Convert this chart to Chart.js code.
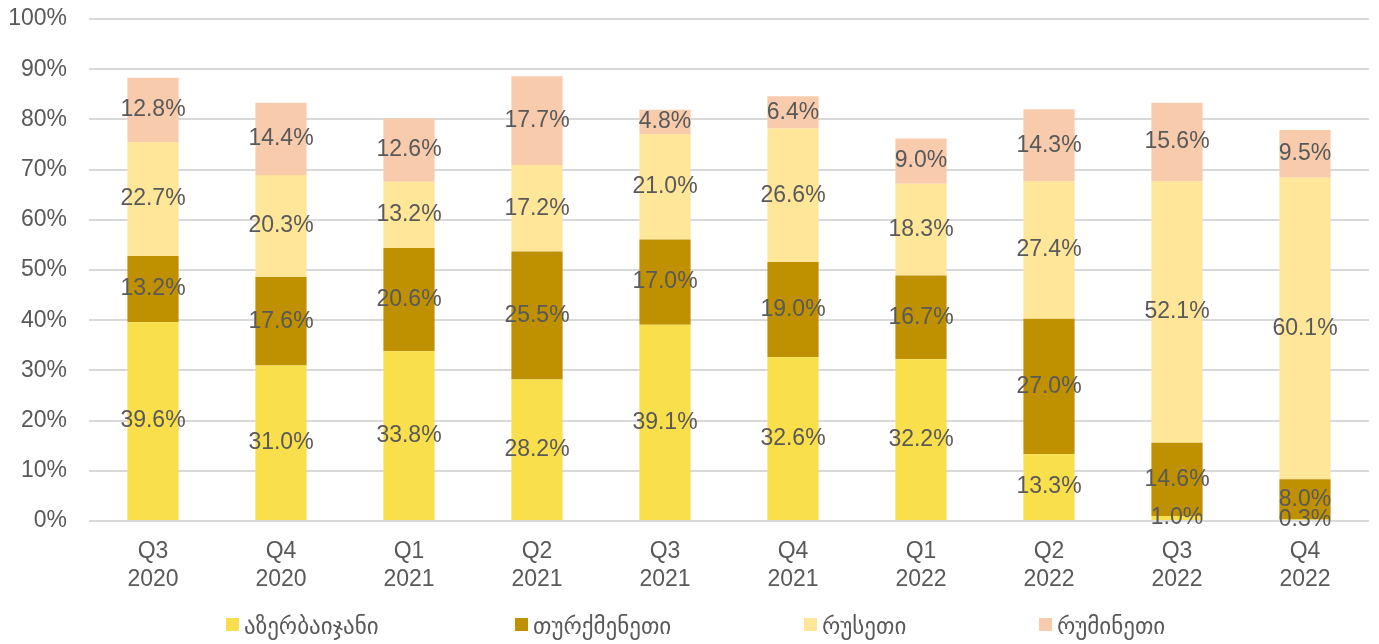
<!DOCTYPE html>
<html>
<head>
<meta charset="utf-8">
<script src="https://cdn.jsdelivr.net/npm/chart.js@4/dist/chart.umd.min.js"></script>
<style>
html,body{margin:0;padding:0;background:#fff;}
#wrap{width:1379px;height:644px;position:relative;}
</style>
</head>
<body>
<div id="wrap"><canvas id="c" width="1379" height="644"></canvas></div>
<script>
const categories = [["Q3","2020"],["Q4","2020"],["Q1","2021"],["Q2","2021"],["Q3","2021"],["Q4","2021"],["Q1","2022"],["Q2","2022"],["Q3","2022"],["Q4","2022"]];
const seriesNames = ["აზერბაიჯანი","თურქმენეთი","რუსეთი","რუმინეთი"];
const azerbaijan = [39.6, 31.0, 33.8, 28.2, 39.1, 32.6, 32.2, 13.3, 1.0, 0.3];
const turkmenistan = [13.2, 17.6, 20.6, 25.5, 17.0, 19.0, 16.7, 27.0, 14.6, 8.0];
const russia = [22.7, 20.3, 13.2, 17.2, 21.0, 26.6, 18.3, 27.4, 52.1, 60.1];
const romania = [12.8, 14.4, 12.6, 17.7, 4.8, 6.4, 9.0, 14.3, 15.6, 9.5];
const colors = ["#F9DF4B","#BF9000","#FFE699","#F8CBAD"];

const FONT = "'Liberation Sans', Arial, sans-serif";
const TXT = "#595959";

const labelPlugin = {
  id: 'segLabels',
  afterDatasetsDraw(chart) {
    const ctx = chart.ctx;
    ctx.save();
    ctx.font = "23px " + FONT;
    ctx.fillStyle = TXT;
    ctx.textAlign = "center";
    ctx.textBaseline = "middle";
    chart.data.datasets.forEach((ds, di) => {
      const meta = chart.getDatasetMeta(di);
      meta.data.forEach((el, i) => {
        const v = ds.data[i];
        const y = (el.y + el.base) / 2;
        ctx.fillText(v.toFixed(1) + "%", el.x, y);
      });
    });
    ctx.restore();
  }
};

// legend drawn on canvas, items spaced like the reference
const legendPlugin = {
  id: 'customLegend',
  afterDraw(chart) {
    const ctx = chart.ctx;
    const boxX = [226, 515, 804, 1039];
    const cy = 628;
    ctx.save();
    ctx.font = "23px 'DejaVu Sans', " + FONT;
    ctx.textBaseline = "middle";
    ctx.textAlign = "left";
    chart.data.datasets.forEach((ds, i) => {
      ctx.fillStyle = ds.backgroundColor;
      ctx.fillRect(boxX[i], 618, 13, 13);
      ctx.fillStyle = TXT;
      ctx.fillText(ds.label, boxX[i] + 18, cy);
    });
    ctx.restore();
  }
};

new Chart(document.getElementById('c'), {
  type: 'bar',
  data: {
    labels: categories,
    datasets: [
      {label: seriesNames[0], data: azerbaijan, backgroundColor: colors[0]},
      {label: seriesNames[1], data: turkmenistan, backgroundColor: colors[1]},
      {label: seriesNames[2], data: russia, backgroundColor: colors[2]},
      {label: seriesNames[3], data: romania, backgroundColor: colors[3]}
    ]
  },
  options: {
    responsive: false,
    animation: false,
    layout: {padding: {top: 19, right: 10, left: 0, bottom: 57}},
    datasets: {bar: {categoryPercentage: 1.0, barPercentage: 0.4}},
    plugins: {
      legend: {display: false},
      tooltip: {enabled: false}
    },
    scales: {
      x: {
        stacked: true,
        afterFit(axis) { axis.height = 66; },
        grid: {display: false},
        border: {display: false},
        ticks: {font: {size: 23, family: FONT, lineHeight: 1.22}, color: TXT, maxRotation: 0, padding: 9}
      },
      y: {
        stacked: true,
        min: 0, max: 100,
        afterFit(axis) { axis.width = 89; },
        grid: {color: "#D9D9D9", lineWidth: 2, drawTicks: true, tickLength: 18, tickColor: "rgba(0,0,0,0)"},
        border: {display: false},
        ticks: {stepSize: 10, font: {size: 23, family: FONT}, color: TXT, padding: 4,
          callback: v => v + "%"}
      }
    }
  },
  plugins: [labelPlugin, legendPlugin]
});
</script>
</body>
</html>
